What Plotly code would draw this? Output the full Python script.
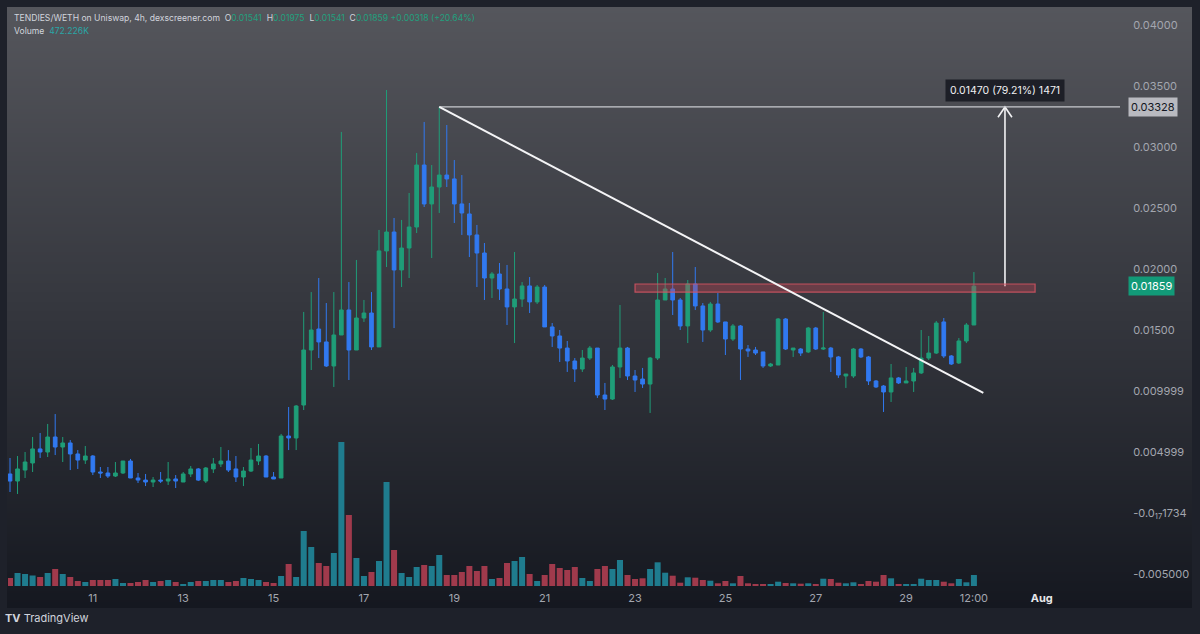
import base64
import struct
import zlib

import pandas as pd
import plotly.graph_objects as go

# ---------------- data ----------------
start_time = "2023-07-09 04:00"
open_ = [0.00320, 0.00262, 0.00352, 0.00410, 0.00525, 0.00500, 0.00623, 0.00541, 0.00574, 0.00484,
         0.00434, 0.00467, 0.00336, 0.00328, 0.00303, 0.00328, 0.00426, 0.00287, 0.00270, 0.00254,
         0.00270, 0.00262, 0.00279, 0.00254, 0.00320, 0.00361, 0.00262, 0.00361, 0.00402, 0.00426,
         0.00361, 0.00295, 0.00344, 0.00426, 0.00467, 0.00295, 0.00287, 0.00631, 0.00615, 0.00885,
         0.01336, 0.01508, 0.01402, 0.01205, 0.01459, 0.01664, 0.01336, 0.01598, 0.01639, 0.01361,
         0.02148, 0.02303, 0.01992, 0.02172, 0.02344, 0.02852, 0.02533, 0.02672, 0.02770, 0.02738,
         0.02533, 0.02451, 0.02279, 0.02131, 0.01926, 0.01959, 0.01836, 0.01689, 0.01754, 0.01861,
         0.01730, 0.01852, 0.01525, 0.01451, 0.01352, 0.01246, 0.01180, 0.01270, 0.01352, 0.00967,
         0.00934, 0.01197, 0.01352, 0.01123, 0.01098, 0.01057, 0.01270, 0.01746, 0.01836, 0.01746,
         0.01533, 0.01877, 0.01697, 0.01500, 0.01713, 0.01566, 0.01426, 0.01533, 0.01344, 0.01336,
         0.01320, 0.01205, 0.01213, 0.01590, 0.01336, 0.01344, 0.01320, 0.01516, 0.01344, 0.01352,
         0.01279, 0.01123, 0.01123, 0.01344, 0.01279, 0.01082, 0.01041, 0.00992, 0.01107, 0.01066,
         0.01082, 0.01148, 0.01270, 0.01311, 0.01566, 0.01287, 0.01230, 0.01410, 0.01541]
high = [0.00451, 0.00467, 0.00500, 0.00623, 0.00656, 0.00730, 0.00811, 0.00623, 0.00598, 0.00516,
        0.00549, 0.00475, 0.00377, 0.00377, 0.00418, 0.00426, 0.00443, 0.00328, 0.00320, 0.00295,
        0.00336, 0.00418, 0.00311, 0.00336, 0.00385, 0.00369, 0.00377, 0.00451, 0.00541, 0.00516,
        0.00467, 0.00377, 0.00533, 0.00566, 0.00475, 0.00336, 0.00648, 0.00869, 0.00885, 0.01648,
        0.01811, 0.01926, 0.01721, 0.01811, 0.03123, 0.01893, 0.02074, 0.01746, 0.01811, 0.02320,
        0.03467, 0.02418, 0.02402, 0.02623, 0.02951, 0.03205, 0.02852, 0.03328, 0.03180, 0.02893,
        0.02770, 0.02541, 0.02361, 0.02213, 0.01975, 0.02049, 0.02033, 0.02139, 0.01893, 0.01934,
        0.01869, 0.01869, 0.01557, 0.01500, 0.01410, 0.01270, 0.01336, 0.01369, 0.01352, 0.01066,
        0.01213, 0.01705, 0.01361, 0.01172, 0.01189, 0.01279, 0.01967, 0.01926, 0.02139, 0.01762,
        0.01910, 0.02016, 0.01721, 0.01730, 0.01803, 0.01566, 0.01549, 0.01541, 0.01377, 0.01361,
        0.01320, 0.01230, 0.01598, 0.01598, 0.01352, 0.01352, 0.01525, 0.01525, 0.01648, 0.01361,
        0.01287, 0.01139, 0.01352, 0.01352, 0.01287, 0.01090, 0.01049, 0.01221, 0.01115, 0.01197,
        0.01189, 0.01500, 0.01451, 0.01574, 0.01598, 0.01295, 0.01434, 0.01557, 0.01975]
low = [0.00172, 0.00156, 0.00287, 0.00336, 0.00451, 0.00459, 0.00475, 0.00418, 0.00352, 0.00361,
       0.00402, 0.00311, 0.00287, 0.00287, 0.00295, 0.00320, 0.00287, 0.00246, 0.00221, 0.00213,
       0.00246, 0.00230, 0.00205, 0.00254, 0.00295, 0.00262, 0.00246, 0.00328, 0.00377, 0.00336,
       0.00254, 0.00221, 0.00336, 0.00393, 0.00295, 0.00279, 0.00287, 0.00516, 0.00516, 0.00844,
       0.01172, 0.01270, 0.01197, 0.01033, 0.01459, 0.01090, 0.01336, 0.01566, 0.01336, 0.01361,
       0.02016, 0.01516, 0.01852, 0.01926, 0.02295, 0.02508, 0.02090, 0.02459, 0.02672, 0.02377,
       0.02279, 0.02098, 0.01852, 0.01746, 0.01762, 0.01746, 0.01541, 0.01393, 0.01689, 0.01639,
       0.01713, 0.01525, 0.01361, 0.01238, 0.01156, 0.01074, 0.01156, 0.01254, 0.00943, 0.00844,
       0.00926, 0.01107, 0.01090, 0.00992, 0.01025, 0.00820, 0.01254, 0.01746, 0.01623, 0.01500,
       0.01393, 0.01664, 0.01402, 0.01484, 0.01557, 0.01295, 0.01410, 0.01090, 0.01279, 0.01295,
       0.01189, 0.01197, 0.01213, 0.01336, 0.01279, 0.01287, 0.01311, 0.01336, 0.01336, 0.01156,
       0.01107, 0.01025, 0.01107, 0.01270, 0.01049, 0.01025, 0.00828, 0.00910, 0.01057, 0.01066,
       0.00992, 0.01139, 0.01254, 0.01303, 0.01270, 0.01213, 0.01221, 0.01393, 0.01541]
close = [0.00262, 0.00361, 0.00418, 0.00525, 0.00500, 0.00623, 0.00541, 0.00574, 0.00484, 0.00434,
         0.00467, 0.00336, 0.00328, 0.00303, 0.00328, 0.00426, 0.00287, 0.00270, 0.00254, 0.00270,
         0.00262, 0.00279, 0.00262, 0.00320, 0.00361, 0.00270, 0.00369, 0.00402, 0.00426, 0.00352,
         0.00295, 0.00344, 0.00434, 0.00467, 0.00295, 0.00279, 0.00631, 0.00615, 0.00877, 0.01336,
         0.01500, 0.01402, 0.01205, 0.01459, 0.01664, 0.01336, 0.01598, 0.01639, 0.01361, 0.02148,
         0.02303, 0.01992, 0.02172, 0.02344, 0.02852, 0.02533, 0.02672, 0.02770, 0.02738, 0.02533,
         0.02459, 0.02279, 0.02131, 0.01926, 0.01959, 0.01836, 0.01689, 0.01754, 0.01861, 0.01730,
         0.01852, 0.01525, 0.01451, 0.01352, 0.01246, 0.01180, 0.01270, 0.01352, 0.00967, 0.00934,
         0.01197, 0.01352, 0.01123, 0.01090, 0.01057, 0.01270, 0.01746, 0.01836, 0.01746, 0.01533,
         0.01877, 0.01697, 0.01500, 0.01713, 0.01566, 0.01426, 0.01533, 0.01344, 0.01328, 0.01311,
         0.01205, 0.01221, 0.01590, 0.01344, 0.01352, 0.01311, 0.01516, 0.01344, 0.01352, 0.01279,
         0.01131, 0.01139, 0.01344, 0.01279, 0.01082, 0.01033, 0.00992, 0.01107, 0.01066, 0.01082,
         0.01148, 0.01270, 0.01311, 0.01557, 0.01287, 0.01221, 0.01410, 0.01541, 0.01859]
volume_k = [344, 559, 516, 452, 387, 559, 731, 516, 387, 215,
            172, 258, 258, 258, 301, 129, 129, 172, 258, 172,
            215, 258, 172, 86, 172, 215, 215, 258, 258, 172,
            215, 344, 301, 258, 172, 129, 430, 946, 387, 2365,
            1677, 989, 860, 1419, 6192, 3053, 1204, 430, 602, 1075,
            4472, 1548, 559, 387, 817, 903, 860, 1333, 473, 473,
            602, 860, 645, 860, 301, 344, 989, 1075, 1247, 516,
            215, 473, 946, 774, 688, 817, 344, 215, 731, 860,
            731, 1118, 473, 301, 331, 731, 1019, 572, 443, 142,
            374, 357, 258, 228, 116, 215, 116, 430, 116, 73,
            86, 73, 185, 129, 116, 99, 116, 86, 314, 301,
            142, 116, 159, 73, 215, 185, 473, 331, 73, 86,
            86, 314, 258, 258, 185, 116, 301, 159, 472.226]

y_tick_vals = [0.040, 0.035, 0.030, 0.025, 0.020, 0.015, 0.010, 0.005, 0.0, -0.005]
y_tick_text = ["0.04000", "0.03500", "0.03000", "0.02500", "0.02000", "0.01500",
               "0.009999", "0.004999", "-0.0<sub>17</sub>1734", "-0.005000"]
x_tick_vals = ["2023-07-11", "2023-07-13", "2023-07-15", "2023-07-17", "2023-07-19",
               "2023-07-21", "2023-07-23", "2023-07-25", "2023-07-27", "2023-07-29",
               "2023-07-30 12:00", "2023-08-01"]
x_tick_text = ["11", "13", "15", "17", "19", "21", "23", "25", "27", "29", "12:00",
               "<span style='color:#e6e7ea'><b>Aug</b></span>"]
x_range = ["2023-07-09 02:56", "2023-08-02 17:36"]
y_range = [-0.00631, 0.04139]

# drawings
trend_start = ("2023-07-18 16:00", 0.03328)
trend_end = ("2023-07-30 17:00", 0.00984)
level_price = 0.03328
last_price = 0.01859
zone_x = ("2023-07-23 00:00", "2023-07-31 20:30")
zone_y = (0.01811, 0.01877)
arrow_x = "2023-07-31 04:30"
measure_text = "0.01470 (79.21%) 1471"

# ---------------- layout helpers ----------------
W, H = 1200, 634
ML, MR, MT, MB = 8, 80, 8, 44
PW, PH = W - ML - MR, H - MT - MB


def px_x(px):
    return (px - ML) / PW


def px_y(py):
    return (H - MB - py) / PH


def make_png(rows):
    raw = b"".join(b"\x00" + bytes(c) for c in rows)

    def chunk(t, d):
        return struct.pack(">I", len(d)) + t + d + struct.pack(">I", zlib.crc32(t + d) & 0xFFFFFFFF)

    ihdr = struct.pack(">IIBBBBB", 1, len(rows), 8, 2, 0, 0, 0)
    return (b"\x89PNG\r\n\x1a\n" + chunk(b"IHDR", ihdr)
            + chunk(b"IDAT", zlib.compress(raw)) + chunk(b"IEND", b""))


top_c, bot_c = (85, 86, 92), (21, 24, 32)
n = 256
rows = [tuple(round(top_c[k] + (bot_c[k] - top_c[k]) * i / (n - 1)) for k in range(3)) for i in range(n)]
grad_uri = "data:image/png;base64," + base64.b64encode(make_png(rows)).decode()

times = pd.date_range(start_time, periods=len(close), freq="4h")
up = [c >= o for o, c in zip(open_, close)]
GREEN, BLUE = "#1f9d78", "#3179f0"
vol_colors = ["#1f7c8e" if u else "#a03a4c" for u in up]

fig = go.Figure()
fig.add_trace(go.Bar(
    x=times, y=volume_k, yaxis="y2", marker_color=vol_colors, marker_line_width=0,
    width=4 * 3600 * 1000 * 0.8, hoverinfo="skip", showlegend=False,
))
fig.add_trace(go.Candlestick(
    x=times, open=open_, high=high, low=low, close=close,
    increasing=dict(line=dict(color=GREEN, width=1), fillcolor=GREEN),
    decreasing=dict(line=dict(color=BLUE, width=1), fillcolor=BLUE),
    whiskerwidth=0, hoverinfo="skip", showlegend=False,
))

# measuring arrow: stem plus open chevron at the top
top_t = pd.Timestamp(arrow_x)
dt = pd.Timedelta(hours=3.7)
dy = 0.00085
fig.add_trace(go.Scatter(
    x=[top_t, top_t, None, top_t - dt, top_t, top_t + dt],
    y=[last_price, level_price, None, level_price - dy, level_price, level_price - dy],
    mode="lines", line=dict(color="#f2f2f4", width=1.6), hoverinfo="skip", showlegend=False,
))

x0t, x1t = pd.Timestamp(x_range[0]), pd.Timestamp(x_range[1])
level_x0 = (pd.Timestamp(trend_start[0]) - x0t) / (x1t - x0t)

shapes = [
    dict(type="rect", xref="x", yref="y", x0=zone_x[0], x1=zone_x[1], y0=zone_y[0], y1=zone_y[1],
         fillcolor="rgba(200,70,85,0.35)", line=dict(color="rgba(215,85,100,0.85)", width=1.2),
         layer="above"),
    dict(type="line", xref="paper", yref="y", x0=level_x0, y0=level_price, x1=1, y1=level_price,
         line=dict(color="#c9cacf", width=1.2)),
    dict(type="line", xref="x", yref="y", x0=trend_start[0], y0=trend_start[1],
         x1=trend_end[0], y1=trend_end[1], line=dict(color="#f4f4f6", width=2)),
]

FONT = "Inter, Roboto, 'Open Sans', sans-serif"
VAL = "#22a07e"
header = ("TENDIES/WETH on Uniswap, 4h, dexscreener.com&nbsp;&nbsp;"
          f"O<span style='color:{VAL}'>0.01541</span>&nbsp;&nbsp;"
          f"H<span style='color:{VAL}'>0.01975</span>&nbsp;&nbsp;"
          f"L<span style='color:{VAL}'>0.01541</span>&nbsp;&nbsp;"
          f"C<span style='color:{VAL}'>0.01859 +0.00318 (+20.64%)</span>")

annotations = [
    dict(xref="paper", yref="paper", x=px_x(12), y=px_y(18), xanchor="left", yanchor="middle",
         text=header, showarrow=False, font=dict(size=8.6, color="#d1d4dc", family=FONT)),
    dict(xref="paper", yref="paper", x=px_x(12), y=px_y(31), xanchor="left", yanchor="middle",
         text=f"Volume&nbsp;&nbsp;<span style='color:#2aa6a6'>{volume_k[-1]:.3f}K</span>",
         showarrow=False, font=dict(size=8.6, color="#d1d4dc", family=FONT)),
    dict(xref="x", yref="y", x=arrow_x, y=level_price, yshift=16, text=measure_text,
         showarrow=False, bgcolor="#1d1f27", borderpad=4,
         font=dict(size=10.5, color="#f0f0f2", family=FONT)),
    dict(xref="paper", yref="y", x=px_x(1128), y=level_price, xanchor="left", yanchor="middle",
         text="0.03328", showarrow=False, bgcolor="#b9bac0", borderpad=2,
         font=dict(size=11, color="#131722", family=FONT)),
    dict(xref="paper", yref="y", x=px_x(1128), y=last_price, xanchor="left", yanchor="middle",
         text="0.01859", showarrow=False, bgcolor="#129a78", borderpad=2,
         font=dict(size=11, color="#ffffff", family=FONT)),
    dict(xref="paper", yref="paper", x=px_x(3), y=px_y(618), xanchor="left", yanchor="middle",
         text="<b>TV</b> TradingView", showarrow=False,
         font=dict(size=11, color="#d1d4dc", family=FONT)),
]

vol_px = 43.0  # thousand per pixel
fig.update_layout(
    width=W, height=H,
    margin=dict(l=ML, r=MR, t=MT, b=MB),
    paper_bgcolor="#1e212a", plot_bgcolor="rgba(0,0,0,0)",
    font=dict(family=FONT, color="#a3a6af", size=11),
    showlegend=False,
    shapes=shapes,
    annotations=annotations,
    images=[dict(source=grad_uri, xref="paper", yref="paper", x=px_x(7), y=px_y(7),
                 sizex=(1192 - 7) / PW, sizey=(608 - 7) / PH, xanchor="left", yanchor="top",
                 sizing="stretch", layer="below")],
    xaxis=dict(type="date", range=x_range,
               rangeslider=dict(visible=False), showgrid=False, zeroline=False,
               tickvals=x_tick_vals, ticktext=x_tick_text, ticks="", ticklen=0,
               tickfont=dict(size=11, color="#a3a6af"),
               showline=False, fixedrange=True),
    yaxis=dict(side="right", range=y_range,
               tickvals=y_tick_vals, ticktext=y_tick_text, showgrid=False, zeroline=False,
               ticks="outside", ticklen=10, tickcolor="rgba(0,0,0,0)",
               tickfont=dict(size=11, color="#a3a6af"), showline=False),
    yaxis2=dict(overlaying="y", side="left", visible=False,
                range=[-(H - MB - 586) * vol_px, (586 - MT) * vol_px]),
    bargap=0.2,
)

fig.write_html("out.html")
